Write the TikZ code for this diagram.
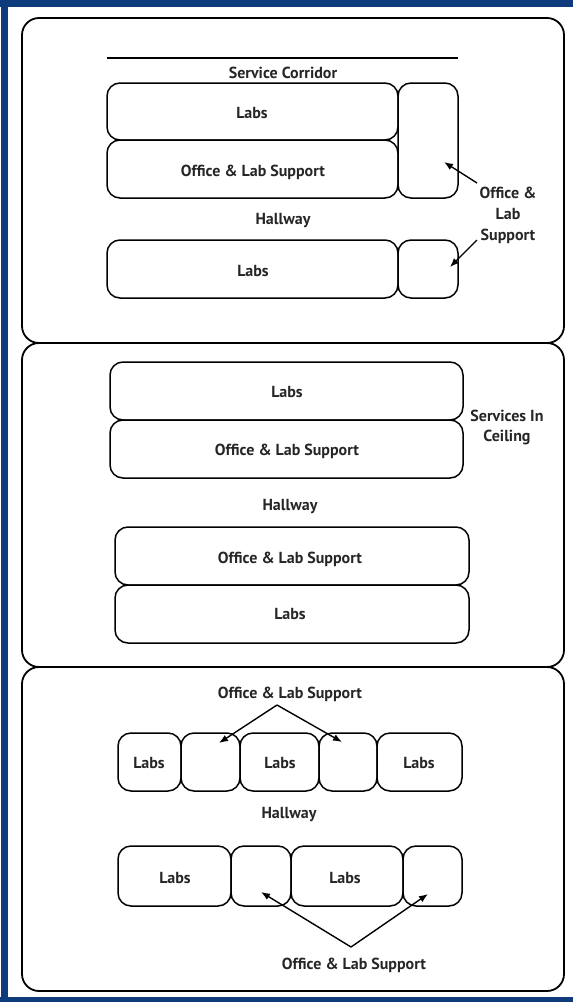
\documentclass[tikz,border=0pt]{standalone}
\usepackage{fontspec}
\setmainfont{PT Sans}
\usetikzlibrary{arrows.meta}
\definecolor{frameblue}{RGB}{13,59,124}
\tikzset{
  panel/.style={draw=black, line width=1.8pt, rounded corners=17pt},
  room/.style={draw=black, line width=1.5pt, rounded corners=13pt},
  lbl/.style={font=\bfseries\fontsize{16}{18}\selectfont, text=black!85, inner sep=0pt, align=center, yshift=-1.5pt},
  pointer/.style={draw=black, line width=1.4pt, -{Latex[length=9pt,width=7pt]}},
}
\begin{document}
\begin{tikzpicture}[x=1pt, y=-1pt]
\useasboundingbox (0,0) rectangle (573,1002);
% page frame
\fill[frameblue] (0,0) rectangle (573,7);
\fill[frameblue] (0,997) rectangle (573,1002);
\fill[frameblue] (1,0) rectangle (8,1002);

% three scheme panels
\draw[panel] (22,18) rectangle (564,343);
\draw[panel] (22,343) rectangle (564,667);
\draw[panel] (22,667) rectangle (564,991);

% ---- scheme 1: service corridor
\draw[line width=1.8pt] (107,58) -- (458,58);
\node[lbl] (corr) at (283,71) {Service Corridor};
\draw[room] (107,83) rectangle (398,140);
\node[lbl] (labsA) at (252,112) {Labs};
\draw[room] (107,140) rectangle (398,198);
\node[lbl] (offA) at (253,171) {Office \& Lab Support};
\draw[room] (398,83) rectangle (458,198);
\coordinate (tipA) at (444,162);
\node[lbl] (hallA) at (283,219) {Hallway};
\draw[room] (107,240) rectangle (398,298);
\node[lbl] (labsB) at (253,270) {Labs};
\draw[room] (398,240) rectangle (458,298);
\coordinate (tipB) at (450,267);
\node[lbl, align=center] (suppA) at (508,214) {Office \&\\[3pt]Lab\\[3pt]Support};
\coordinate (fromA) at (477,183);
\coordinate (fromB) at (477,240);
\draw[pointer] (fromA) -- (tipA);
\draw[pointer] (fromB) -- (tipB);

% ---- scheme 2: services in ceiling
\draw[room] (110,362) rectangle (463,420);
\node[lbl] (labsC) at (287,391) {Labs};
\draw[room] (110,420) rectangle (463,478);
\node[lbl] (offC) at (287,450) {Office \& Lab Support};
\node[lbl] (ceil) at (507,426) {Services In\\[2pt]Ceiling};
\node[lbl] (hallC) at (290,505) {Hallway};
\draw[room] (115,527) rectangle (469,585);
\node[lbl] (offD) at (290,558) {Office \& Lab Support};
\draw[room] (115,585) rectangle (469,643);
\node[lbl] (labsD) at (290,613) {Labs};

% ---- scheme 3: alternating rooms
\node[lbl] (suppT) at (290,693) {Office \& Lab Support};
\draw[room] (118,733) rectangle (181,791);
\node[lbl] (l1) at (149,762) {Labs};
\draw[room] (181,733) rectangle (240,791);
\coordinate (t1) at (219,743);
\draw[room] (240,733) rectangle (319,791);
\node[lbl] (l2) at (280,762) {Labs};
\draw[room] (319,733) rectangle (377,791);
\coordinate (t2) at (342,742);
\draw[room] (377,733) rectangle (462,791);
\node[lbl] (l3) at (419,762) {Labs};
\coordinate (apexT) at (277,705);
\draw[pointer] (apexT) -- (t1);
\draw[pointer] (apexT) -- (t2);

\node[lbl] (hallE) at (289,813) {Hallway};

\draw[room] (118,846) rectangle (231,906);
\node[lbl] (l4) at (175,877) {Labs};
\draw[room] (231,846) rectangle (291,906);
\coordinate (t3) at (261,892);
\draw[room] (291,846) rectangle (403,906);
\node[lbl] (l5) at (345,877) {Labs};
\draw[room] (403,846) rectangle (462,906);
\coordinate (t4) at (428,894);
\node[lbl] (suppB) at (354,964) {Office \& Lab Support};
\coordinate (apexB) at (351,947);
\draw[pointer] (apexB) -- (t3);
\draw[pointer] (apexB) -- (t4);
\end{tikzpicture}
\end{document}
